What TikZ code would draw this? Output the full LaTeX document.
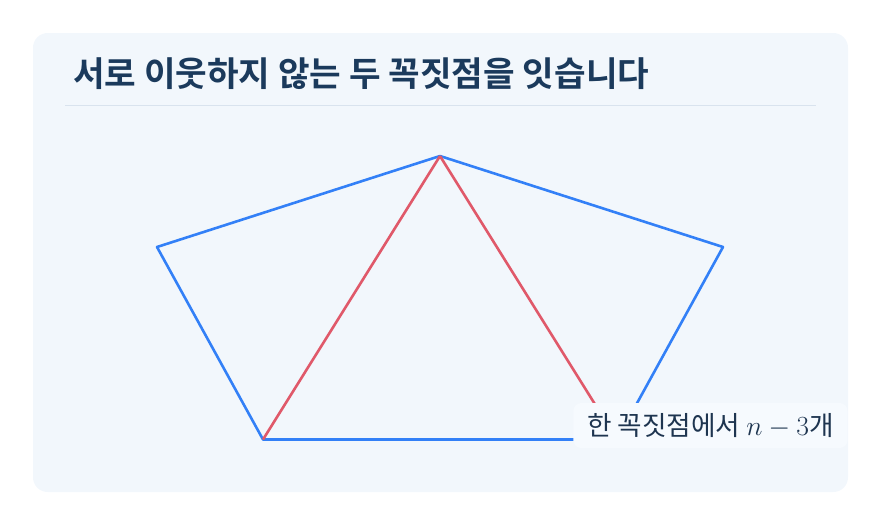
\documentclass[tikz,border=0pt]{standalone}
\usepackage{fontspec}
\newfontfamily\cjk{Noto Sans CJK KR}[BoldFont={Noto Sans CJK KR Bold}]
\definecolor{panelbg}{HTML}{F2F7FC}
\definecolor{tagbg}{HTML}{F6FAFE}
\definecolor{ruleclr}{HTML}{D9E3EE}
\definecolor{titleclr}{HTML}{1B3A5C}
\definecolor{edgeblue}{HTML}{3380F7}
\definecolor{diagred}{HTML}{E0596A}
\definecolor{labelclr}{HTML}{1E3550}
\tikzset{
  edge/.style={draw=edgeblue, line width=2.6pt*0.75},
  diag/.style={draw=diagred, line width=2.6pt*0.75},
  tag/.style={fill=tagbg, rounded corners=6pt, inner xsep=10.5pt, inner ysep=0pt, minimum height=33.75pt, text=labelclr, font=\cjk\fontsize{20}{24}\selectfont}
}
\begin{document}
\begin{tikzpicture}[x=0.75pt,y=0.75pt,yscale=-1,xscale=1]
\useasboundingbox (0,0) rectangle (881,526);
%Shape: Panel
\fill [panelbg, rounded corners=11pt] (33,33) rectangle (848,492);
%Straight Lines
\draw [ruleclr, line width=0.75pt] (65,105.5) -- (816,105.5);

% Text Node
\node (title) [anchor=base west, inner sep=0pt, text=titleclr, font=\cjk\bfseries\fontsize{25.75}{30}\selectfont] at (73,86) {서로 이웃하지 않는 두 꼭짓점을 잇습니다};

%Pentagon vertices
\coordinate (top) at (440,156);
\coordinate (left) at (157,247);
\coordinate (right) at (723,247);
\coordinate (botleft) at (263,439.5);
\coordinate (botright) at (617,439.5);

%Straight Lines
\draw [edge, line join=round] (top) -- (right) -- (botright) -- (botleft) -- (left) -- cycle;
\draw [diag] (top) -- (botleft);
\draw [diag] (top) -- (botright);

% Text Node
\node (count) [tag, anchor=west] at (573,425.5) {한 꼭짓점에서 $n-3$개};
\end{tikzpicture}
\end{document}
